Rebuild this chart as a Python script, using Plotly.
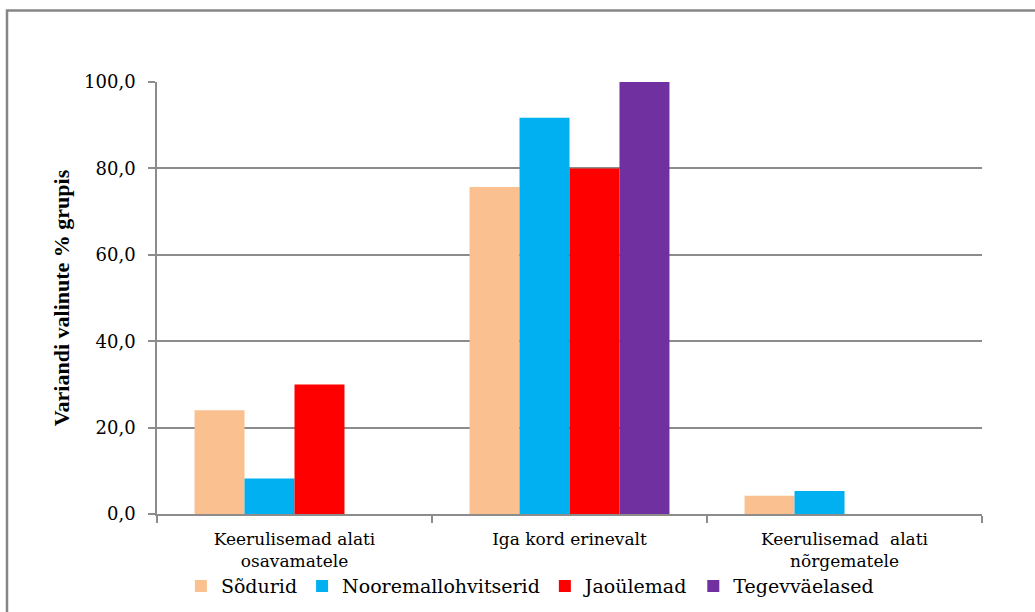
import plotly.graph_objects as go

categories = [
    "Keerulisemad alati<br>osavamatele",
    "Iga kord erinevalt",
    "Keerulisemad  alati<br>nõrgematele",
]
series_names = ["Sõdurid", "Nooremallohvitserid", "Jaoülemad", "Tegevväelased"]
sodurid = [24.0, 75.7, 4.2]
nooremallohvitserid = [8.2, 91.7, 5.3]
jaoulemad = [30.0, 80.0, None]
tegevvaelased = [None, 100.0, None]
colors = ["#FAC090", "#00B0F0", "#FF0000", "#7030A0"]
y_ticks = [0, 20, 40, 60, 80, 100]

serif = "Liberation Serif"
wide_serif = "DejaVu Serif"
axis_grey = "#8C8C8C"

fig = go.Figure()
for name, vals, col in zip(series_names,
                           [sodurid, nooremallohvitserid, jaoulemad, tegevvaelased],
                           colors):
    fig.add_trace(go.Bar(
        x=categories, y=vals, name=name,
        marker=dict(color=col, line=dict(width=0)),
    ))

fig.update_layout(
    barmode="group",
    bargap=0.273,
    bargroupgap=0,
    width=1035, height=612,
    margin=dict(l=157, r=53, t=82, b=98, autoexpand=False),
    paper_bgcolor="white",
    plot_bgcolor="white",
    separators=",.",
    font=dict(family=wide_serif, color="#000000"),
    showlegend=True,
    legend=dict(
        orientation="h",
        x=0.452, xanchor="center",
        y=-0.167, yanchor="middle",
        font=dict(family=wide_serif, size=19),
        traceorder="normal",
        itemwidth=30,
        bgcolor="rgba(0,0,0,0)",
    ),
    xaxis=dict(
        showline=True, linecolor=axis_grey, linewidth=1.5,
        ticks="outside", tickson="boundaries", ticklen=7,
        tickcolor=axis_grey, tickwidth=1.5,
        tickfont=dict(family=wide_serif, size=17),
        ticklabelstandoff=9,
        showgrid=False,
        automargin=False,
    ),
    yaxis=dict(
        range=[0, 100],
        tickvals=y_ticks,
        tickformat=".1f",
        showline=True, linecolor=axis_grey, linewidth=1.5,
        ticks="outside", ticklen=7, tickcolor=axis_grey, tickwidth=1.5,
        ticklabelstandoff=9,
        showgrid=True, gridcolor=axis_grey, gridwidth=1.5,
        zeroline=False,
        automargin=False,
        tickfont=dict(family=wide_serif, size=18),
        title=dict(
            text="<b>Variandi valinute % grupis</b>",
            font=dict(family=serif, size=22),
            standoff=8,
        ),
    ),
    shapes=[
        dict(type="rect", xref="paper", yref="paper",
             x0=-0.1818, x1=1.3, y0=-0.4, y1=1.1655,
             line=dict(color="#868686", width=2.5),
             fillcolor="rgba(0,0,0,0)", layer="below"),
    ],
)

fig.write_html("out.html")
